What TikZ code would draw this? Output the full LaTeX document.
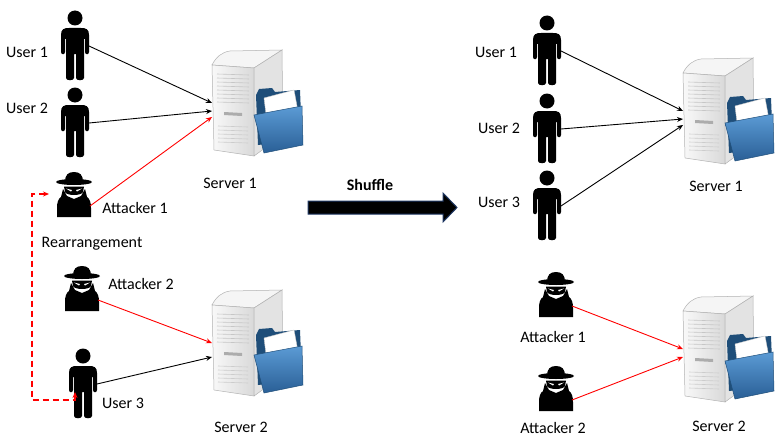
\documentclass[tikz,border=0pt]{standalone}
\usepackage{fontspec}
\setmainfont{Carlito}
\usetikzlibrary{arrows.meta}

\begin{document}
\begin{tikzpicture}[x=1pt, y=-1pt]

% =======================================================
% Color definitions
% =======================================================
\definecolor{cred}{HTML}{FF0000}     % attacker traffic
\definecolor{cnavy}{HTML}{1F3864}    % shuffle arrow outline
\definecolor{cfold}{HTML}{1F4E79}    % folder back
\definecolor{cfoldhi}{HTML}{5B9BD5}  % folder front, top
\definecolor{cfoldlo}{HTML}{2A5F96}  % folder front, bottom

% =======================================================
% Styles
% =======================================================
\tikzset{
  lbl/.style   = {font=\fontsize{16}{19}\selectfont, inner sep=0pt},
  conn/.style  = {line width=0.9, -{Stealth[length=6pt, width=5pt]}},
  attk/.style  = {conn, cred},
  rearr/.style = {cred, line width=1.4, dash pattern=on 6pt off 4pt,
                  {Stealth[length=6pt, width=5pt]}-{Stealth[length=6pt, width=5pt]}},
  % user silhouette, top of head at the origin
  person/.pic = {
    \fill (0,8) circle (7.5);
    \fill (-14,42) -- (-14,25) .. controls (-14,19) and (-11,18) .. (-6,18)
      -- (6,18) .. controls (11,18) and (14,19) .. (14,25) -- (14,42)
      .. controls (14,45) and (10,45) .. (10,42) -- (10,29) -- (9,29) -- (9,68)
      .. controls (9,71) and (1,71) .. (1,68) -- (1,44) -- (-1,44) -- (-1,68)
      .. controls (-1,71) and (-9,71) .. (-9,68) -- (-9,29) -- (-10,29) -- (-10,42)
      .. controls (-10,45) and (-14,45) .. (-14,42) -- cycle;
    \coordinate (-hand) at (14,36);
    \coordinate (-foot) at (-8,44);
  },
  % hat-and-coat silhouette, top of hat at the origin
  attacker/.pic = {
    \fill (-9,10) .. controls (-9,3) and (-6,0) .. (0,0)
      .. controls (6,0) and (9,3) .. (9,10) -- cycle;
    \fill (0,10) ellipse (18 and 3);
    \fill (-10,14.5) -- (10,14.5) -- (9,20) .. controls (7,24) and (-7,24) .. (-9,20) -- cycle;
    \fill[white] (-8,16.5) -- (-2,18) -- (-3,19.5) -- cycle;
    \fill[white] (8,16.5) -- (2,18) -- (3,19.5) -- cycle;
    \fill (-11,17) -- (-7,24) -- (0,27) -- (7,24) -- (11,17) -- (13,25)
      .. controls (16,27) and (17,31) .. (17,36) -- (17,45) -- (-17,45) -- (-17,36)
      .. controls (-17,31) and (-16,27) .. (-13,25) -- cycle;
    \coordinate (-hand) at (16,34);
    \coordinate (-back) at (-25,22);
  },
  % tower with a folder, top-left corner at the origin
  server/.pic = {
    \fill[gray!8, draw=gray!60, line width=0.5]
      (0,15) .. controls (4,7) and (10,2) .. (18,1) -- (70,0) -- (42,18) -- cycle;
    \shade[left color=gray!5, right color=gray!30, draw=gray!60, line width=0.5]
      (0,15) -- (42,18) -- (42,106) -- (2,100) -- cycle;
    \fill[gray!22, draw=gray!60, line width=0.5]
      (42,18) -- (70,0) -- (71,85) -- (42,106) -- cycle;
    \foreach \yy in {24,28,...,52}
      \draw[gray!45, line width=0.6] (5,\yy) -- (37,\yy+1);
    \fill[gray!65] (12,62) -- (30,63) -- (30,66) -- (12,65) -- cycle;
    \foreach \yy in {76,80,...,92}
      \draw[gray!40, line width=0.6] (6,\yy) -- (36,\yy+1);
    % folder
    \fill[cfold] (44,45) -- (47,39) -- (60,38) -- (63,42) -- (88,40) -- (90,90) -- (46,95) -- cycle;
    \fill[white, draw=gray!40, line width=0.4] (52,48) -- (82,40) -- (88,72) -- (56,80) -- cycle;
    \shade[top color=cfoldhi, bottom color=cfoldlo, draw=cfold, line width=0.5]
      (42,65) -- (90,56) -- (91,95) -- (52,103) -- cycle;
    \coordinate (-p1) at (0,53);
    \coordinate (-p2) at (0,61);
    \coordinate (-p3) at (0,67);
  },
}

\useasboundingbox (0,0) rectangle (775,436);

% =======================================================
% Left: before the shuffle
% =======================================================
\pic (u1)  at (75,10)  {person};
\pic (u2)  at (75,87)  {person};
\pic (a1)  at (74,172) {attacker};
\pic (a2)  at (82,266) {attacker};
\pic (u3)  at (83,348) {person};
\pic (s1)  at (212,50) {server};
\pic (s2)  at (212,290) {server};

\node[lbl] (lu1) at (27,52)   {User 1};
\node[lbl] (lu2) at (27,108)  {User 2};
\node[lbl] (la1) at (135,208) {Attacker 1};
\node[lbl] (lre) at (92,244)  {Rearrangement};
\node[lbl] (la2) at (141,284) {Attacker 2};
\node[lbl] (lu3) at (123,403) {User 3};
\node[lbl] (ls1) at (230,183) {Server 1};
\node[lbl] (ls2) at (241,427) {Server 2};

\draw[conn] (u1-hand) -- (s1-p1);
\draw[conn] (u2-hand) -- (s1-p2);
\draw[attk] (a1-hand) -- (s1-p3);
\draw[attk] (a2-hand) -- (s2-p1);
\draw[conn] (u3-hand) -- (s2-p3);

% swap of attacker 1 and user 3
\coordinate (bend) at (32,400);
\draw[rearr] (a1-back) -| (bend) -| (u3-foot);

% =======================================================
% Shuffle arrow
% =======================================================
\node[lbl, font=\fontsize{16}{19}\selectfont\bfseries] (lsh) at (370,185) {Shuffle};
\draw[fill=black, draw=cnavy, line width=1]
  (308,201) -- (443,201) -- (443,193) -- (457,207.5) -- (443,222) -- (443,214) -- (308,214) -- cycle;

% =======================================================
% Right: after the shuffle
% =======================================================
\pic (v1)  at (547,15)  {person};
\pic (v2)  at (547,93)  {person};
\pic (v3)  at (547,170) {person};
\pic (b1)  at (556,272) {attacker};
\pic (b2)  at (556,366) {attacker};
\pic (t1)  at (683,58)  {server};
\pic (t2)  at (683,296) {server};

\node[lbl] (lv1) at (496,52)  {User 1};
\node[lbl] (lv2) at (499,128) {User 2};
\node[lbl] (lv3) at (499,202) {User 3};
\node[lbl] (lb1) at (553,337) {Attacker 1};
\node[lbl] (lb2) at (553,428) {Attacker 2};
\node[lbl] (lt1) at (716,186) {Server 1};
\node[lbl] (lt2) at (719,426) {Server 2};

\draw[conn] (v1-hand) -- (t1-p1);
\draw[conn] (v2-hand) -- (t1-p2);
\draw[conn] (v3-hand) -- (t1-p3);
\draw[attk] (b1-hand) -- (t2-p1);
\draw[attk] (b2-hand) -- (t2-p2);

\end{tikzpicture}
\end{document}
